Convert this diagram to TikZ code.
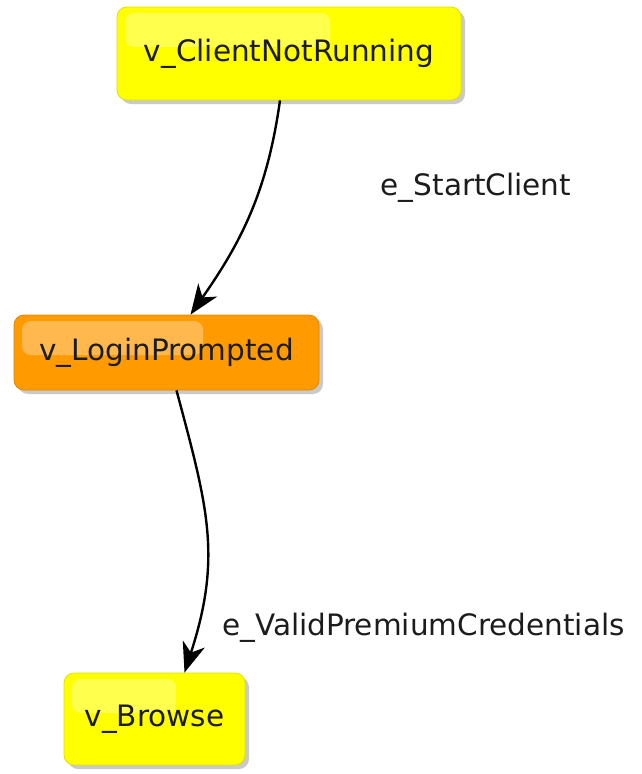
\documentclass[tikz,border=0pt]{standalone}
\usepackage{fontspec}
\setmainfont{DejaVu Sans}
\usetikzlibrary{arrows.meta,shadows,calc}
\definecolor{vyellow}{HTML}{FFFF00}
\definecolor{vorange}{HTML}{FF9A00}
\definecolor{vtext}{HTML}{1C1C1C}
\begin{document}
\begin{tikzpicture}[x=1pt,y=1pt,
    vertex/.style={rounded corners=10pt,draw=#1!88!black,line width=0.8pt,fill=#1,
      text=vtext,font=\fontsize{29.5}{35}\selectfont,inner sep=0pt,
      drop shadow={shadow xshift=4pt,shadow yshift=-4pt,opacity=0.35,fill=black!60},
      path picture={\fill[white,opacity=0.3,rounded corners=9pt]
        ([shift={(8pt,-6pt)}]path picture bounding box.north west) rectangle
        ([yshift=-40pt]$(path picture bounding box.north west)!0.62!(path picture bounding box.north east)$);}},
    trans/.style={-{Stealth[length=30pt,width=23pt,inset=9pt]},line width=2.4pt,black},
    elabel/.style={text=vtext,font=\fontsize{29.5}{35}\selectfont,inner sep=0pt}]
  \useasboundingbox (0,0) rectangle (641,-774);
  \path (289,-53.5) node[vertex=vyellow,minimum width=344pt,minimum height=93pt] (A) {v\_ClientNotRunning};
  \path (166.5,-352.5) node[vertex=vorange,minimum width=305pt,minimum height=75pt] (B) {v\_LoginPrompted};
  \path (154.5,-719) node[vertex=vyellow,minimum width=181pt,minimum height=92pt] (C) {v\_Browse};
  \path (476,-188) node[elabel] (la) {e\_StartClient};
  \path (222,-628) node[elabel,anchor=west] (lb) {e\_ValidPremiumCredentials};
  \draw[trans] ([xshift=-9pt]A.south) to[out=-98,in=55] ([xshift=24pt]B.north);
  \draw[trans] ([xshift=10pt]B.south) to[out=-75,in=72,looseness=1.1] ([xshift=30pt]C.north);
\end{tikzpicture}
\end{document}
